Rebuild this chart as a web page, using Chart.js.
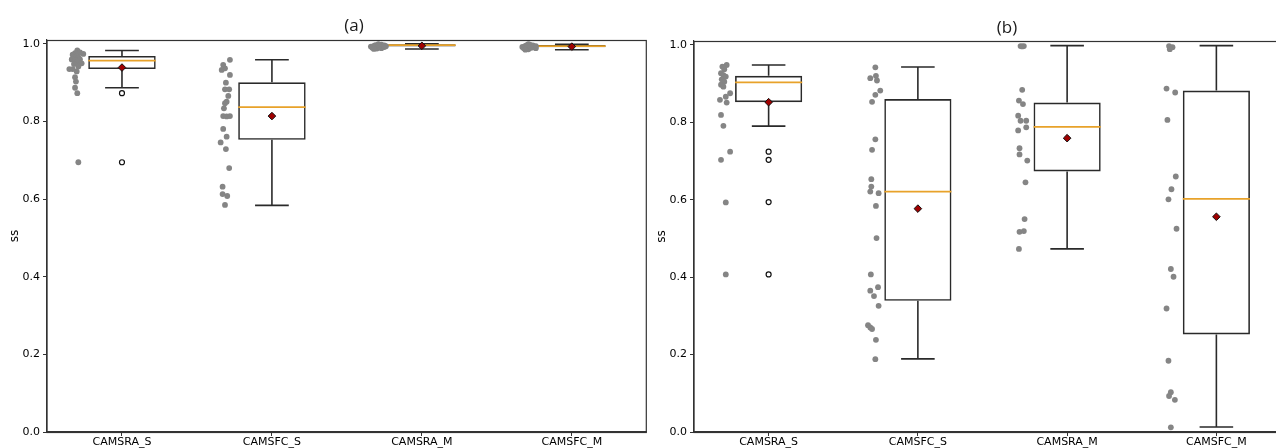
<!DOCTYPE html>
<html>
<head>
<meta charset="utf-8">
<script src="https://cdn.jsdelivr.net/npm/chart.js@4.4.1/dist/chart.umd.min.js"></script>
<style>
    html, body { margin: 0; padding: 0; background: #fff; overflow: hidden; }
    #page { position: relative; width: 1276px; height: 448px; overflow: hidden; background: #fff; }
    .panel { position: absolute; top: 0; height: 448px; }
    #panelA { left: 0; width: 652px; }
    #panelB { left: 647px; width: 700px; }
    .panelTitle {
        position: absolute;
        font-family: "Open Sans", sans-serif;
        font-size: 17px;
        line-height: 20px;
        color: #1a1a1a;
        transform: translateX(-50%);
    }
</style>
</head>
<body>
<div id="page">
    <div class="panel" id="panelA"><canvas id="chartA" width="652" height="448"></canvas></div>
    <div class="panel" id="panelB"><canvas id="chartB" width="700" height="448"></canvas></div>
    <div class="panelTitle" style="left:354px; top:15px;">(a)</div>
    <div class="panelTitle" style="left:1007px; top:17px;">(b)</div>
</div>
<script>
// Catégories (positions 1..4 sur l'axe x)
const categories = ["CAMSRA_S", "CAMSFC_S", "CAMSRA_M", "CAMSFC_M"];
const yTicks = [0.0, 0.2, 0.4, 0.6, 0.8, 1.0];

// Panneau (a) : statistiques des boîtes
const aWhiskLo = [0.887, 0.584, 0.987, 0.985];
const aQ1      = [0.935, 0.753, 0.993, 0.991];
const aMedian  = [0.957, 0.837, 0.997, 0.994];
const aQ3      = [0.969, 0.901, 0.999, 0.997];
const aWhiskHi = [0.983, 0.959, 1.000, 0.999];
const aMean    = [0.939, 0.814, 0.995, 0.993];
const aOutliers = [[0.873, 0.695], [], [], []];

// Panneau (a) : points individuels [x, ss]
const aRaSPoints = [[0.702,0.983],[0.687,0.976],[0.720,0.978],[0.742,0.974],[0.671,0.972],[0.693,0.967],[0.709,0.966],[0.665,0.960],[0.687,0.959],[0.720,0.960],[0.702,0.952],[0.680,0.948],[0.731,0.950],[0.649,0.935],[0.671,0.935],[0.709,0.942],[0.698,0.929],[0.687,0.914],[0.693,0.903],[0.687,0.887],[0.702,0.873],[0.709,0.695]];
const aFcSPoints = [[1.720,0.959],[1.675,0.946],[1.687,0.937],[1.665,0.933],[1.720,0.920],[1.693,0.900],[1.687,0.883],[1.715,0.883],[1.709,0.866],[1.698,0.851],[1.687,0.847],[1.680,0.834],[1.675,0.814],[1.698,0.813],[1.720,0.814],[1.675,0.781],[1.698,0.761],[1.658,0.746],[1.693,0.729],[1.715,0.680],[1.671,0.632],[1.671,0.613],[1.702,0.608],[1.687,0.585]];
const aRaMPoints = [[2.66,0.993],[2.67,0.990],[2.68,0.995],[2.69,0.997],[2.70,0.992],[2.70,0.988],[2.71,0.996],[2.72,0.994],[2.72,0.991],[2.73,0.998],[2.73,0.989],[2.74,0.995],[2.74,0.993],[2.75,0.992],[2.76,0.994],[2.68,0.987],[2.71,0.999],[2.75,0.996]];
const aFcMPoints = [[3.67,0.992],[3.68,0.989],[3.69,0.995],[3.70,0.997],[3.70,0.991],[3.71,0.986],[3.72,0.994],[3.72,0.998],[3.73,0.990],[3.74,0.993],[3.74,0.996],[3.75,0.991],[3.76,0.994],[3.69,0.985],[3.71,0.999],[3.73,0.992],[3.76,0.989]];

// Panneau (b) : statistiques des boîtes
const bWhiskLo = [0.790, 0.189, 0.473, 0.013];
const bQ1      = [0.852, 0.339, 0.673, 0.252];
const bMedian  = [0.903, 0.621, 0.788, 0.602];
const bQ3      = [0.920, 0.860, 0.851, 0.882];
const bWhiskHi = [0.948, 0.943, 0.998, 0.998];
const bMean    = [0.852, 0.577, 0.759, 0.556];
const bOutliers = [[0.724, 0.703, 0.594, 0.407], [], [], []];

// Panneau (b) : points individuels [x, ss]
const bRaSPoints = [[0.719,0.948],[0.690,0.944],[0.703,0.937],[0.681,0.927],[0.697,0.922],[0.713,0.918],[0.686,0.911],[0.703,0.905],[0.681,0.897],[0.697,0.892],[0.742,0.875],[0.713,0.866],[0.674,0.858],[0.719,0.851],[0.681,0.819],[0.697,0.791],[0.742,0.724],[0.681,0.703],[0.713,0.593],[0.713,0.407]];
const bFcSPoints = [[1.715,0.942],[1.681,0.914],[1.719,0.920],[1.726,0.908],[1.748,0.882],[1.715,0.871],[1.693,0.853],[1.715,0.756],[1.693,0.729],[1.688,0.653],[1.688,0.634],[1.681,0.621],[1.737,0.617],[1.719,0.584],[1.723,0.501],[1.685,0.407],[1.733,0.374],[1.681,0.365],[1.706,0.351],[1.737,0.326],[1.666,0.276],[1.681,0.270],[1.693,0.266],[1.719,0.238],[1.715,0.188]];
const bRaMPoints = [[2.688,0.997],[2.710,0.997],[2.699,0.996],[2.699,0.884],[2.677,0.856],[2.704,0.847],[2.672,0.817],[2.688,0.804],[2.726,0.804],[2.672,0.779],[2.726,0.787],[2.681,0.733],[2.681,0.717],[2.733,0.701],[2.721,0.645],[2.715,0.550],[2.681,0.517],[2.710,0.519],[2.677,0.473]];
const bFcMPoints = [[3.683,0.997],[3.706,0.994],[3.688,0.989],[3.666,0.887],[3.724,0.877],[3.672,0.806],[3.728,0.660],[3.699,0.627],[3.679,0.601],[3.733,0.525],[3.695,0.421],[3.713,0.401],[3.666,0.319],[3.679,0.184],[3.695,0.103],[3.683,0.093],[3.722,0.083],[3.695,0.012]];

const BOX_WIDTH = 0.45;      // largeur des boîtes (unités x)
const CAP_HALF = BOX_WIDTH / 4;
const LINE_COLOR = '#2a2a2a';

// Cadre haut / droite (comme les axes matplotlib)
const framePlugin = {
    id: 'frame',
    afterDraw: (chart) => {
        const { ctx, chartArea } = chart;
        ctx.save();
        ctx.strokeStyle = '#333';
        ctx.lineWidth = 1.2;
        ctx.strokeRect(chartArea.left, chartArea.top + 0.5, chartArea.right - chartArea.left - 0.5, chartArea.bottom - chartArea.top);
        ctx.restore();
    }
};

window.buildBoxChart = function(canvasId, stats, pointGroups, padding) {
    const boxes = categories.map((c, i) => ({ x: i + 1, y: [stats.q1[i], stats.q3[i]] }));

    // Moustaches + capuchons, séparés par des null
    let whiskers = [];
    let medians = [];
    let means = [];
    let outliers = [];
    categories.forEach((c, i) => {
        const x = i + 1;
        whiskers.push({ x: x, y: stats.q3[i] }, { x: x, y: stats.hi[i] }, { x: x, y: null });
        whiskers.push({ x: x, y: stats.q1[i] }, { x: x, y: stats.lo[i] }, { x: x, y: null });
        whiskers.push({ x: x - CAP_HALF, y: stats.hi[i] }, { x: x + CAP_HALF, y: stats.hi[i] }, { x: x, y: null });
        whiskers.push({ x: x - CAP_HALF, y: stats.lo[i] }, { x: x + CAP_HALF, y: stats.lo[i] }, { x: x, y: null });
        medians.push({ x: x - BOX_WIDTH / 2, y: stats.med[i] }, { x: x + BOX_WIDTH / 2, y: stats.med[i] }, { x: x, y: null });
        means.push({ x: x, y: stats.mean[i] });
        stats.out[i].forEach(v => outliers.push({ x: x, y: v }));
    });

    let scatter = [];
    pointGroups.forEach(group => {
        group.forEach(p => scatter.push({ x: p[0], y: p[1] }));
    });

    const ctx = document.getElementById(canvasId).getContext('2d');
    return new Chart(ctx, {
        type: 'bar',
        data: {
            datasets: [
                {
                    type: 'scatter',
                    data: scatter,
                    backgroundColor: '#858585',
                    borderWidth: 0,
                    pointRadius: 2.9,
                    order: 2
                },
                {
                    type: 'bar',
                    data: boxes,
                    backgroundColor: 'rgba(255,255,255,0)',
                    borderColor: LINE_COLOR,
                    borderWidth: 1.6,
                    borderSkipped: false,
                    categoryPercentage: 1,
                    barPercentage: BOX_WIDTH,
                    order: 6
                },
                {
                    type: 'line',
                    data: whiskers,
                    borderColor: LINE_COLOR,
                    borderWidth: 1.6,
                    pointRadius: 0,
                    spanGaps: false,
                    order: 5
                },
                {
                    type: 'line',
                    data: medians,
                    borderColor: '#e8a22a',
                    borderWidth: 1.8,
                    pointRadius: 0,
                    spanGaps: false,
                    order: 4
                },
                {
                    type: 'scatter',
                    data: outliers,
                    backgroundColor: '#fff',
                    borderColor: '#111',
                    borderWidth: 1.2,
                    pointRadius: 2.5,
                    order: 3
                },
                {
                    type: 'scatter',
                    data: means,
                    pointStyle: 'rectRot',
                    backgroundColor: '#a00000',
                    borderColor: '#111',
                    borderWidth: 1,
                    pointRadius: 3.8,
                    order: 1
                }
            ]
        },
        options: {
            responsive: false,
            animation: false,
            events: [],
            layout: { padding: padding },
            plugins: {
                legend: { display: false },
                tooltip: { enabled: false },
                title: { display: false }
            },
            scales: {
                x: {
                    type: 'linear',
                    min: 0.5,
                    max: 4.5,
                    offset: false,
                    afterBuildTicks: (scale) => { scale.ticks = categories.map((c, i) => ({ value: i + 1 })); },
                    afterFit: (scale) => { scale.height = 16; },
                    grid: { display: true, drawOnChartArea: false, drawTicks: true, tickLength: 4, color: '#333', offset: false },
                    border: { display: true, color: '#333', width: 1.2 },
                    ticks: {
                        autoSkip: false,
                        maxRotation: 0,
                        padding: 0,
                        color: '#000',
                        font: { family: 'DejaVu Sans', size: 11 },
                        callback: (v) => categories[Math.round(v) - 1] || ''
                    }
                },
                y: {
                    type: 'linear',
                    min: 0,
                    max: 1.01,
                    afterBuildTicks: (scale) => { scale.ticks = yTicks.map(v => ({ value: v })); },
                    afterFit: (scale) => { scale.width = 47; },
                    grid: { display: true, drawOnChartArea: false, drawTicks: true, tickLength: 4, color: '#333' },
                    border: { display: true, color: '#333', width: 1.2 },
                    title: {
                        display: true,
                        text: 'ss',
                        color: '#000',
                        font: { family: 'DejaVu Sans', size: 12 },
                        padding: { top: 8, bottom: 0 }
                    },
                    ticks: {
                        padding: 3,
                        color: '#000',
                        font: { family: 'DejaVu Sans', size: 11 },
                        callback: (v) => Number(v).toFixed(1)
                    }
                }
            }
        },
        plugins: [framePlugin]
    });
};

buildBoxChart('chartA',
    { lo: aWhiskLo, q1: aQ1, med: aMedian, q3: aQ3, hi: aWhiskHi, mean: aMean, out: aOutliers },
    [aRaSPoints, aFcSPoints, aRaMPoints, aFcMPoints],
    { top: 40, right: 4, bottom: 0, left: 0 });

buildBoxChart('chartB',
    { lo: bWhiskLo, q1: bQ1, med: bMedian, q3: bQ3, hi: bWhiskHi, mean: bMean, out: bOutliers },
    [bRaSPoints, bFcSPoints, bRaMPoints, bFcMPoints],
    { top: 41, right: 56, bottom: 0, left: 0 });
</script>
</body>
</html>
